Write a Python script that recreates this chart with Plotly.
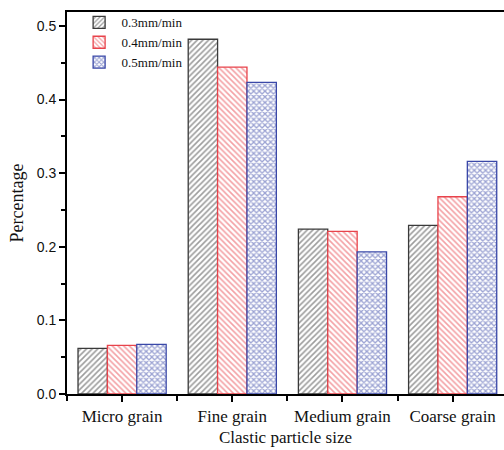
import plotly.graph_objects as go

categories = ["Micro grain", "Fine grain", "Medium grain", "Coarse grain"]
series_names = ["0.3mm/min", "0.4mm/min", "0.5mm/min"]
v03 = [0.062, 0.482, 0.224, 0.229]
v04 = [0.066, 0.444, 0.221, 0.268]
v05 = [0.0675, 0.4235, 0.193, 0.316]
y_ticks = [0.0, 0.1, 0.2, 0.3, 0.4, 0.5]

colors = ["#3a3a3a", "#e8434b", "#3a48a8"]
shapes = ["/", "\\", "x"]
psizes = [4, 4, 4]
solid = [0.4, 0.4, 0.55]
xpos = list(range(len(categories)))

fig = go.Figure()
for name, vals, c, s, ps, so in zip(series_names, [v03, v04, v05], colors, shapes, psizes, solid):
    fig.add_trace(go.Bar(
        x=xpos, y=vals, name=name,
        marker=dict(color="white",
                    line=dict(color=c, width=1.3),
                    pattern=dict(shape=s, fgcolor=c, bgcolor="white",
                                 size=ps, solidity=so,
                                 fillmode="overlay")),
    ))

serif = "Liberation Serif"
fig.update_layout(
    width=504, height=450,
    margin=dict(l=67, r=0, t=12, b=56),
    paper_bgcolor="white", plot_bgcolor="white",
    barmode="group", bargap=0.2, bargroupgap=0,
    showlegend=True,
    legend=dict(x=0.022, y=1.012, xanchor="left", yanchor="top",
                font=dict(family=serif, size=13, color="#111"),
                bgcolor="rgba(0,0,0,0)", tracegroupgap=0,
                itemwidth=35),
    xaxis=dict(range=[-0.5, 3.466], tickmode="array", tickvals=xpos,
               ticktext=categories, showgrid=False, zeroline=False,
               showline=True, linecolor="black", linewidth=2, mirror=True,
               ticks="outside", ticklen=6, tickwidth=1.5, tickcolor="black",
               minor=dict(tick0=0.5, dtick=1, ticks="outside", ticklen=5,
                          tickwidth=1.5, tickcolor="black"),
               tickfont=dict(family=serif, size=17, color="#111"),
               title=dict(text="Clastic particle size",
                          font=dict(family=serif, size=17, color="#111"),
                          standoff=6)),
    yaxis=dict(range=[0, 0.519], tickmode="array", tickvals=y_ticks,
               ticktext=[f"{v:.1f}" for v in y_ticks],
               showgrid=False, zeroline=False,
               showline=True, linecolor="black", linewidth=2,
               ticks="outside", ticklen=6, tickwidth=1.5, tickcolor="black",
               minor=dict(dtick=0.05, ticks="outside", ticklen=4,
                          tickwidth=1.5, tickcolor="black"),
               tickfont=dict(family="Liberation Sans", size=14, color="#111"),
               title=dict(text="Percentage",
                          font=dict(family=serif, size=18, color="#111"),
                          standoff=8)),
)

fig.write_html("out.html")
